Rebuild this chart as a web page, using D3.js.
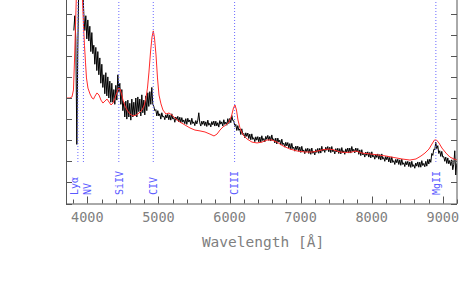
<!DOCTYPE html>
<html><head><meta charset="utf-8">
<script src="https://cdn.jsdelivr.net/npm/d3@7"></script>
<style>html,body{margin:0;padding:0;background:#fff;overflow:hidden}</style>
</head><body>
<svg id="c" width="471" height="282"></svg>
<script>
// ---- data ----
const waveStart = 3810;      // first pixel of observed spectrum (Å)
const waveStep = 14.065;     // Å per spectral pixel
const specFlux = [
8.2,8.9,7.8,2.8,7.4,10.5,11.2,10.6,11.4,10.1,
9.0,8.2,8.9,7.8,8.7,7.7,8.4,7.2,8.1,7.1,
7.5,6.6,7.4,6.3,7.2,6.1,6.9,5.7,6.6,5.5,
6.1,5.2,6.2,5.1,6.0,5.0,5.8,4.8,5.7,4.8,
5.4,4.7,5.6,4.9,6.1,5.3,5.7,4.7,5.4,4.4,
4.8,4.1,4.85,4.0,4.9,4.1,4.75,3.95,4.95,4.1,
4.8,4.15,5.0,4.1,5.05,4.35,4.95,4.15,5.15,4.3,
4.9,4.2,5.1,4.4,5.25,4.6,5.3,4.7,5.5,4.7,
4.6,4.4,4.45,4.15,4.4,4.15,4.25,4.0,4.3,4.1,
4.14,3.97,4.2,4.05,4.23,3.97,4.2,3.95,4.25,4.0,
4.07,3.85,4.1,3.95,4.13,3.87,4.09,3.83,4.07,3.85,
3.96,3.78,4.02,3.75,4.04,3.86,3.96,3.74,4.04,3.79,
3.87,3.69,3.93,3.77,3.95,4.3,3.82,3.67,3.9,3.75,
3.91,3.69,3.87,3.65,3.95,3.71,3.8,3.63,3.88,3.73,
3.91,3.67,3.9,3.68,3.83,3.62,3.93,3.76,3.87,3.67,
3.97,3.75,3.86,3.71,4.02,3.79,4.03,3.83,4.17,3.93,
3.92,3.65,3.75,3.46,3.69,3.47,3.53,3.27,3.54,3.27,
3.32,3.12,3.35,3.18,3.34,3.08,3.29,3.02,3.3,3.04,
3.12,2.93,3.16,3.0,3.17,2.92,3.15,2.9,3.21,2.98,
3.08,2.92,3.18,3.04,3.23,2.99,3.18,2.96,3.25,3.0,
3.07,2.87,3.1,2.82,3.1,2.91,3.0,2.77,3.05,2.79,
2.86,2.67,2.9,2.73,2.89,2.63,2.84,2.57,2.85,2.6,
2.67,2.48,2.72,2.55,2.72,2.47,2.68,2.42,2.71,2.46,
2.54,2.36,2.6,2.45,2.62,2.37,2.59,2.33,2.63,2.38,
2.47,2.3,2.56,2.42,2.61,2.38,2.62,2.39,2.71,2.48,
2.58,2.42,2.67,2.52,2.7,2.45,2.67,2.41,2.7,2.45,
2.53,2.35,2.6,2.44,2.62,2.37,2.6,2.35,2.65,2.41,
2.5,2.33,2.59,2.44,2.63,2.39,2.63,2.39,2.7,2.47,
2.57,2.4,2.63,2.45,2.61,2.33,2.54,2.27,2.55,2.3,
2.38,2.2,2.44,2.28,2.45,2.2,2.42,2.16,2.45,2.2,
2.28,2.1,2.34,2.18,2.35,2.1,2.32,2.06,2.35,2.1,
2.18,2.0,2.23,2.07,2.23,1.97,2.19,1.92,2.21,1.95,
2.03,1.85,2.09,1.93,2.1,1.85,2.07,1.81,2.1,1.85,
1.93,1.75,1.99,1.83,2.0,1.75,1.97,1.71,2.0,1.75,
1.84,1.67,1.92,1.77,1.97,1.72,1.96,1.72,2.03,1.8,
1.9,1.74,2.0,1.77,2.09,1.87,2.1,1.95,2.37,2.28,
2.57,2.55,2.9,2.6,2.74,2.37,2.5,2.23,2.47,2.2,
2.22,2.0,2.2,1.9,2.16,1.88,2.04,1.8,2.07,1.6,
1.86,2.5,1.35,1.9
];
const modelWave = [3700,3756,3784,3805,3820,3834,3848,3869,3897,3918,3932,3946,3960,3974,3988,
4009,4038,4066,4087,4108,4136,4164,4192,4220,4249,4277,4305,4333,4361,4389,4418,4438,4460,4481,
4502,4530,4558,4600,4642,4685,4727,4769,4797,4825,4846,4867,4889,4910,4928,4945,4966,4987,5008,
5036,5064,5106,5149,5191,5247,5303,5374,5444,5514,5585,5655,5725,5782,5824,5866,5908,5950,5992,
6028,6056,6077,6098,6119,6147,6190,6246,6316,6387,6457,6527,6597,6668,6752,6851,6949,7062,7160,
7244,7329,7399,7469,7554,7638,7722,7779,7863,7976,8088,8201,8313,8426,8538,8623,8693,8749,8806,
8848,8883,8911,8946,8988,9045,9101,9157,9200];
const modelFlux = [5.0,5.0,5.05,5.38,6.8,8.46,10.1,11.5,11.8,11.1,9.65,8.46,7.5,6.7,5.95,
5.47,5.19,5.0,4.95,5.09,5.24,5.14,4.9,4.76,4.86,4.95,4.81,4.67,4.76,5.0,5.28,5.47,5.43,5.19,
4.9,4.62,4.43,4.24,4.15,4.19,4.29,4.43,4.62,5.0,5.47,6.23,7.18,7.89,8.18,7.84,7.04,5.95,5.14,
4.72,4.43,4.24,4.29,4.19,4.0,3.86,3.72,3.58,3.48,3.44,3.39,3.29,3.2,3.29,3.48,3.63,3.72,3.86,
4.15,4.53,4.67,4.43,3.96,3.58,3.25,3.06,2.91,2.87,2.91,3.01,3.01,2.91,2.73,2.58,2.49,2.44,2.44,
2.49,2.56,2.58,2.54,2.44,2.42,2.44,2.49,2.39,2.35,2.3,2.25,2.18,2.11,2.06,2.11,2.25,2.39,2.58,
2.82,3.01,3.01,2.87,2.63,2.39,2.2,2.11,2.06];
const lineNames = ["Lyα","NV","SiIV","CIV","CIII","MgII"];
const lineRest = [1215.67,1240.14,1396.76,1549.06,1908.73,2798.75];
const redshift = 2.181;
const xTickLabels = [4000,5000,6000,7000,8000,9000];
const yTickValues = [0,1,2,3,4,5,6,7,8,9];

// ---- layout ----
const svg = d3.select("#c");
const L = 66, R = 457, B = 203.5, T = -7.5;
const x = d3.scaleLinear().domain([3700, 9200]).range([L, R]);
const y = d3.scaleLinear().domain([0, 10]).range([B, T]);
const axisColor = "#555";

svg.append("defs").append("clipPath").attr("id","clip")
  .append("rect").attr("x",L).attr("y",-20).attr("width",R-L).attr("height",B+20);

const spec = specFlux.map((f,i)=>({w: waveStart + i*waveStep, f}));
const model = modelWave.map((w,i)=>({w, f: modelFlux[i]}));

const g = svg.append("g").attr("clip-path","url(#clip)");
const line = d3.line().x(d=>x(d.w)).y(d=>y(d.f));
g.append("path").datum(spec).attr("d",line).attr("fill","none")
  .attr("stroke","#000").attr("stroke-width",1);
g.append("path").datum(model).attr("d",line).attr("fill","none")
  .attr("stroke","#ff2a2a").attr("stroke-width",1);

// emission line markers
const lines = lineNames.map((n,i)=>({n, w: lineRest[i]*(1+redshift)}));
g.selectAll(".mk").data(lines).enter().append("line")
  .attr("x1",d=>x(d.w)).attr("x2",d=>x(d.w)).attr("y1",-10).attr("y2",162)
  .attr("stroke","#6a6aff").attr("stroke-width",1).attr("stroke-dasharray","1,2");
const labOff = {"Lyα":0.5,"NV":7.3};
svg.selectAll(".lb").data(lines).enter().append("text")
  .attr("transform",d=>`translate(${x(d.w)+(labOff[d.n]!==undefined?labOff[d.n]:3.7)},195) rotate(-90)`)
  .attr("font-family","DejaVu Sans Mono").attr("font-size",10).attr("fill","#5a5aff")
  .text(d=>d.n);

// axes
const ax = svg.append("g").attr("stroke",axisColor).attr("fill","none");
ax.append("line").attr("x1",L+0.5).attr("x2",L+0.5).attr("y1",-5).attr("y2",B+0.5);
ax.append("line").attr("x1",R).attr("x2",R).attr("y1",-5).attr("y2",B+0.5);
ax.append("line").attr("x1",L).attr("x2",R).attr("y1",B+0.5).attr("y2",B+0.5);
yTickValues.forEach(v=>{
  const yy = Math.round(y(v))+0.5;
  ax.append("line").attr("x1",L).attr("x2",L+6).attr("y1",yy).attr("y2",yy);
  ax.append("line").attr("x1",R-6).attr("x2",R).attr("y1",yy).attr("y2",yy);
});
const minor = d3.range(3800, 9201, 200);
minor.forEach(w=>{
  const xx = Math.round(x(w))+0.5;
  const major = w % 1000 === 0;
  ax.append("line").attr("x1",xx).attr("x2",xx).attr("y1",B).attr("y2",B-(major?7:4));
});
svg.selectAll(".tl").data(xTickLabels).enter().append("text")
  .attr("x",d=>x(d)).attr("y",222).attr("text-anchor","middle")
  .attr("font-family","DejaVu Sans Mono").attr("font-size",13.5).attr("fill","#808080")
  .text(d=>d);
svg.append("text").attr("x",263).attr("y",246.5).attr("text-anchor","middle")
  .attr("font-family","DejaVu Sans Mono").attr("font-size",14.5).attr("fill","#808080")
  .text("Wavelength [Å]");
</script>
</body></html>
